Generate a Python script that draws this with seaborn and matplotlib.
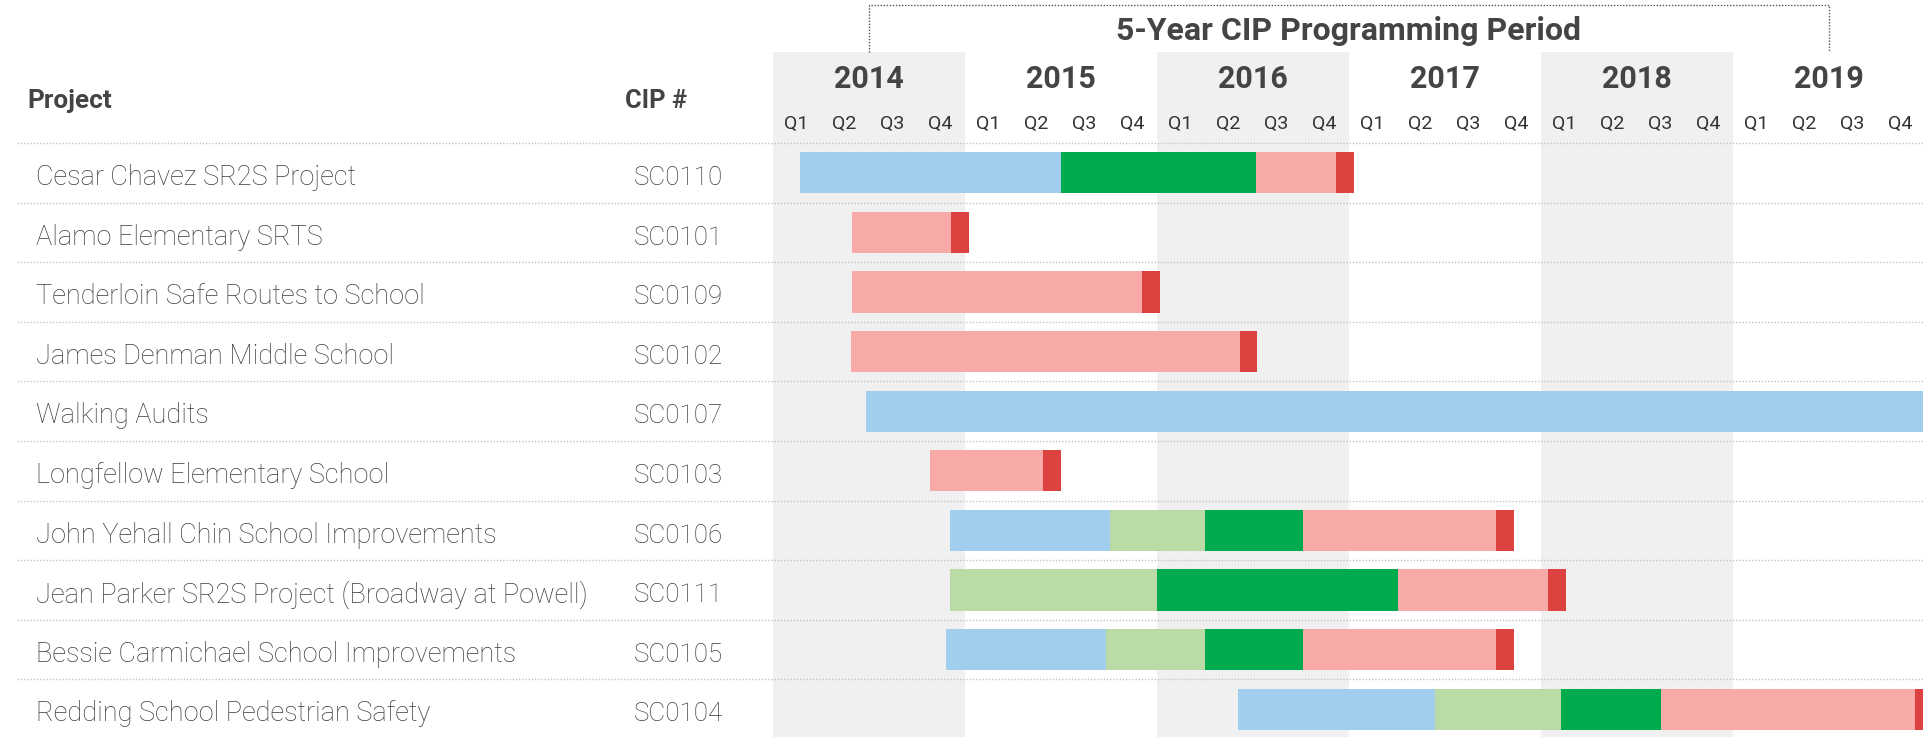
import numpy as np
import pandas as pd
import matplotlib
matplotlib.use("Agg")
import matplotlib.pyplot as plt
from matplotlib import font_manager
import seaborn as sns

# ---------------- data ----------------
projects = [
    "Cesar Chavez SR2S Project",
    "Alamo Elementary SRTS",
    "Tenderloin Safe Routes to School",
    "James Denman Middle School",
    "Walking Audits",
    "Longfellow Elementary School",
    "John Yehall Chin School Improvements",
    "Jean Parker SR2S Project (Broadway at Powell)",
    "Bessie Carmichael School Improvements",
    "Redding School Pedestrian Safety",
]
cip_numbers = ["SC0110", "SC0101", "SC0109", "SC0102", "SC0107",
               "SC0103", "SC0106", "SC0111", "SC0105", "SC0104"]

years = [2014, 2015, 2016, 2017, 2018, 2019]
quarters = ["Q1", "Q2", "Q3", "Q4"]

# phase spans in months since Jan 2014 (start, end); None = phase absent
phase_blue = [(1.73, 18.04), None, None, None, (5.86, 72.0), None,
              (11.1, 21.1), None, (10.85, 20.84), (29.1, 41.4)]
phase_lightgreen = [None, None, None, None, None, None,
                    (21.1, 27.0), (11.1, 24.0), (20.84, 27.0), (41.4, 49.3)]
phase_green = [(18.04, 30.2), None, None, None, None, None,
               (27.0, 33.15), (24.0, 39.1), (27.0, 33.15), (49.3, 55.5)]
phase_pink = [(30.2, 35.2), (4.95, 11.15), (4.95, 23.09), (4.93, 29.2), None,
              (9.84, 16.9), (33.15, 45.2), (39.1, 48.46), (33.15, 45.2), (55.5, 71.4)]
phase_red = [(35.2, 36.35), (11.15, 12.28), (23.09, 24.2), (29.2, 30.3), None,
             (16.9, 18.05), (45.2, 46.34), (48.46, 49.6), (45.2, 46.34), (71.4, 72.0)]

phases = [phase_blue, phase_lightgreen, phase_green, phase_pink, phase_red]
phase_colors = ["#a1cdee", "#badba6", "#00ab4e", "#f7aaa7", "#dc4340"]

title = "5-Year CIP Programming Period"
period_start, period_end = 6, 66  # months (bracket span)

# ---------------- style ----------------
sns.set_style("white")
names = {f.name for f in font_manager.fontManager.ttflist}
MAIN = "Roboto" if "Roboto" in names else "DejaVu Sans"
NARROW = "Liberation Sans Narrow" if "Liberation Sans Narrow" in names else MAIN
plt.rcParams["font.family"] = [MAIN, "DejaVu Sans"]

W, H, DPI = 1924, 737, 100
X0_PX, PX_MONTH = 772.6, 16.0
ROW0_PX, ROW_PX, AXTOP_PX = 172.8, 59.6, 52.0

def row_of(px):
    return (px - ROW0_PX) / ROW_PX

fig = plt.figure(figsize=(W / DPI, H / DPI), dpi=DPI)
ax = fig.add_axes([0, 0, 1, (H - AXTOP_PX) / H])

TXT = "#444444"

# year bands
for i, yr in enumerate(years):
    if i % 2 == 0:
        ax.axvspan(12 * i, 12 * i + 12, color="#f0f0f0", lw=0, zorder=0)

# row separators
for k in range(len(projects)):
    ax.axhline(k - 0.5, xmin=17 / W, xmax=1, color="#c4c4c4", lw=1.0,
               ls=(0, (1, 1.3)), zorder=1)

# bars through seaborn
for spans, col in zip(phases, phase_colors):
    df = pd.DataFrame({
        "project": projects,
        "left": [s[0] if s else 0.0 for s in spans],
        "dur": [s[1] - s[0] if s else 0.0 for s in spans],
    })
    sns.barplot(data=df, y="project", x="dur", order=projects, orient="y",
                color=col, saturation=1, width=0.69, errorbar=None,
                left=df["left"].to_numpy(), linewidth=0, ax=ax, zorder=3)

ax.set_xlim(-X0_PX / PX_MONTH, (W - X0_PX) / PX_MONTH)
ax.set_ylim(row_of(H), row_of(AXTOP_PX))
ax.axis("off")

# bracket above the programming period
ytop = row_of(5)
ybot = row_of(AXTOP_PX)
ax.plot([period_start, period_start, period_end, period_end],
        [ybot, ytop, ytop, ybot], color="#555555", lw=1.0,
        ls=(0, (1, 1.2)), clip_on=False, zorder=5)

def fy(px):
    return 1 - px / H

def fx(px):
    return px / W

def mx(m):
    return (X0_PX + m * PX_MONTH) / W

# title
fig.text(mx((period_start + period_end) / 2), fy(39.5), title, ha="center",
         va="baseline", fontsize=23, fontweight="bold", color=TXT)

# headers
fig.text(fx(27), fy(108.3), "Project", ha="left", va="baseline",
         fontsize=18.8, fontweight="bold", color=TXT)
fig.text(fx(625), fy(108.3), "CIP #", ha="left", va="baseline",
         fontsize=18.3, fontweight="bold", color=TXT)

# year & quarter labels
for i, yr in enumerate(years):
    fig.text(mx(12 * i + 6), fy(87.8), str(yr), ha="center", va="baseline",
             fontsize=22, fontweight="bold", color=TXT)
    for j, q in enumerate(quarters):
        fig.text(mx(12 * i + 3 * j + 1.5), fy(129), q, ha="center",
                 va="baseline", fontsize=14, color="#333333",
                 family=[NARROW, "DejaVu Sans"])

# row labels
for k, (p, c) in enumerate(zip(projects, cip_numbers)):
    base = ROW0_PX + k * ROW_PX + 12.2
    fig.text(fx(36.5), fy(base), p, ha="left", va="baseline", fontsize=19.5,
             fontweight="light", color="#3c3c3c")
    fig.text(fx(634), fy(base), c, ha="left", va="baseline", fontsize=18.6,
             fontweight="light", color="#3c3c3c")

fig.savefig("out.png", dpi=DPI)
